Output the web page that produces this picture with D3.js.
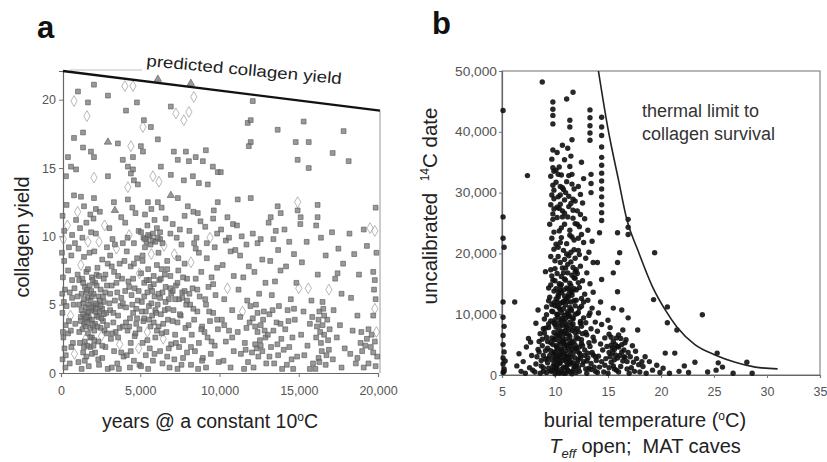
<!DOCTYPE html>
<html><head><meta charset="utf-8">
<script src="https://cdn.jsdelivr.net/npm/d3@7"></script>
<style>
body{margin:0;background:#fff}
svg{display:block}
text{font-family:"Liberation Sans",Arial,sans-serif;white-space:pre}
</style>
</head><body>
<svg id="c" width="827" height="462"></svg>
<script>
// ---------- panel a data ----------
const yieldTicks = [0, 5, 10, 15, 20];
const yearTicks = [0, 5000, 10000, 15000, 20000];
const predictedLine = [[0, 22.1], [20000, 19.2]];
// [years, collagen yield, marker (0 square, 1 diamond, 2 triangle)]
const collagenUpper = [
[1070,20.6],[820,19.9,1],[1700,19.8],[1640,18.8,1],[2080,21.1],[2960,20.3],[4030,21.0,1],[4540,21.0,1],[4790,19.8],[4100,19.2],
[5230,18.5],[5170,18.0,1],[5670,18.0],[6110,17.1],[6930,19.5],[7250,19.0,1],[7750,18.5,1],[8070,19.1,1],[8380,20.2,1],[6110,21.5,2],
[8190,21.2,2],[1390,17.6],[820,17.2],[2960,16.9,2],[3590,16.8],[4410,16.6,1],[5040,16.6],[1390,16.5],[1890,16.2],[2080,15.8],
[3900,15.6],[4540,15.8],[5170,16.2],[440,15.8],[7120,16.2],[7880,16.2],[8500,15.8],[9140,16.3],[630,15.1],[950,14.9],
[4220,15.1],[4540,14.9],[6300,15.1],[7370,15.6],[8070,15.5],[8950,15.5],[9580,15.1],[9890,14.7],[2080,14.3,1],[2960,14.4],
[4410,14.6],[4600,14.1],[4850,13.8],[5800,14.4,1],[6180,14.0,1],[6930,14.5],[7750,14.1],[8320,14.4],[8700,13.9],[9260,13.8],
[315,14.4],[4220,13.6,1],[820,13.0],[1260,12.9],[2080,12.8],[3340,12.5],[4220,12.7],[5480,12.5],[6110,12.5],[6930,13.0,2],
[7370,12.8],[8000,12.2],[8630,11.7],[9640,11.9],[9890,12.5],
[12100,19.9],[11780,18.3],[11970,18.5],[11970,16.9],[11850,16.6],[13670,17.8],[15310,18.4],[14810,16.9],[15630,16.9],[17830,17.7],
[14930,15.6],[15630,15.0],[17140,16.1],[18150,15.5],[11150,12.7],[11970,12.8],[13670,12.2],[13860,11.7],[13230,11.4],[14930,12.5,1],
[14930,11.9],[15120,11.4],[16190,12.3],[16190,11.4],[19850,12.1],[10080,14.7]
];
const collagenLower = [
[100,11.5],[150,9.8,1],[200,8.2],[120,7.0],[250,6.1],[180,5.2],[90,4.4],[300,3.5],[150,2.6],[220,1.8],[100,1.0],[280,0.4],[400,10.8,1],[500,9.2],[650,8.6],
[450,7.5],[700,6.8],[550,5.9],[800,5.0],[600,4.2,1],[900,3.6],[450,2.9],[750,2.2],[850,1.4,1],[550,0.7],[950,11.2],[700,10.1],[350,12.3],[880,9.5],[620,3.1],
[1050,11.8,1],[1200,10.6],[1350,9.9],[1100,9.1],[1450,8.5],[1250,7.9,1],[1600,7.4],[1150,6.8],[1500,6.3],[1300,5.8],[1700,5.5],[1400,5.1],[1550,4.8],[1650,4.4],[1250,4.1],
[1800,3.9],[1450,3.6],[1350,3.2],[1700,2.9],[1550,2.5,1],[1200,2.2],[1850,1.9],[1400,1.5],[1600,1.2],[1100,0.8],[1750,0.5],[1900,10.3],[1800,8.8],[1950,7.0],[1900,6.0],
[1750,5.0],[1950,4.6],[1850,3.3],[1650,2.0],[1500,0.9],[1300,0.3],[1950,2.6],[1700,9.6,1],[1600,11.0],[1850,11.6],[1450,12.2],[1150,3.0],[1050,5.6],[1500,4.0],[1600,5.9],
[1650,3.7],[1750,4.1],[1850,5.3],[1950,5.6],[1400,6.6],
[2050,11.3],[2200,10.2],[2400,9.6,1],[2100,8.9],[2600,8.3],[2300,7.7],[2800,7.2],[2150,6.6],[2500,6.1],[2350,5.6],[2700,5.2],[2050,4.9],[2450,4.5],[2250,4.2],[2650,3.8],
[2900,3.5],[2100,3.1],[2550,2.7,1],[2350,2.3],[2800,1.9],[2150,1.5],[2600,1.1],[2400,0.6],[2950,0.3],[2900,9.2],[2750,10.8,1],[2450,11.8],[2200,12.0],[2050,2.0],[2300,5.0],
[2150,4.5],[2600,4.7],[2500,3.3],[2900,6.4],[2700,6.9],[2850,4.4],[2250,7.2],[2950,8.0],
[3050,10.6],[3250,9.8],[3500,9.1,1],[3100,8.6],[3700,8.0],[3350,7.4],[3850,6.9],[3200,6.4],[3550,5.9],[3400,5.3],[3750,4.9],[3100,4.6],[3600,4.2],[3300,3.7],[3900,3.4],
[3450,3.0],[3150,2.5],[3700,2.1,1],[3350,1.6],[3950,1.2],[3550,0.7],[3200,0.4],[3800,11.4],[3400,11.9,2],[3900,9.5],[3600,7.1],[3050,5.1],[3800,5.5],[3250,2.9],[3650,0.3],
[4050,11.0],[4300,10.1,1],[4600,9.5],[4150,8.9],[4800,8.4],[4400,7.8],[4950,7.3,1],[4250,6.7],[4650,6.2],[4450,5.7],[4850,5.3],[4100,4.8],[4550,4.4],[4350,4.0],[4750,3.6],
[4200,3.1],[4650,2.7],[4400,2.2],[4900,1.8,1],[4150,1.3],[4600,0.9],[4350,0.4],[4950,0.6],[4700,11.7],[4500,12.1],[4900,10.4],[4050,6.0],[4750,4.7],[4550,6.9],[4300,3.4],
[5050,10.3],[5200,9.9],[5400,9.6],[5600,10.0],[5800,9.7],[5300,9.2],[5700,8.7,1],[5150,8.2],[5500,7.6],[5850,7.1],[5250,6.6],[5650,6.3],[5450,5.9],[5900,5.6],[5100,5.2],
[5550,4.9],[5350,4.5],[5750,4.2],[5200,3.8],[5650,3.4],[5450,3.0,1],[5950,2.6],[5150,2.2],[5600,1.8],[5350,1.3],[5800,0.9],[5050,0.5],[5500,0.3],[5900,11.2],[5300,11.6],
[5700,12.0],[5450,10.8],[5950,4.6],[5050,7.3],[5750,6.0],[5250,4.0],[5550,6.8],[5850,3.7],
[6050,10.6],[6250,9.8],[6500,9.3,1],[6150,8.8],[6700,8.2],[6350,7.6],[6900,7.1],[6200,6.8],[6600,6.3],[6400,5.9],[6800,5.4],[6100,5.0],[6550,4.6],[6300,4.3],[6750,3.9],
[6150,3.4],[6650,3.0],[6450,2.5,1],[6950,2.1],[6250,1.6],[6700,1.2],[6400,0.7],[6850,0.4],[6600,11.3],[6900,10.2],[6350,12.1],[6050,3.1],[6550,7.2],[6950,5.8],[6250,5.5],
[7050,10.9],[7300,9.9],[7600,9.4],[7150,8.7,1],[7800,8.0],[7400,7.5],[7950,6.9],[7250,6.4],[7650,5.9],[7450,5.4],[7900,5.0],[7100,4.6],[7550,4.2],[7350,3.7],[7850,3.3],
[7200,2.8],[7700,2.4],[7450,1.9],[7950,1.5],[7150,1.0],[7600,0.6],[7350,0.3],[7800,11.5],[7500,10.5],[7050,6.0],[7700,7.0],
[8100,10.4],[8400,9.5],[8700,8.8],[8200,8.1,1],[8850,7.4],[8500,6.9],[8300,6.2],[8750,5.6],[8150,5.0],[8600,4.5],[8400,3.9],[8900,3.4],[8250,2.8],[8700,2.2],[8450,1.6],
[8950,1.1],[8200,0.6],[8650,0.3],[8800,11.1],[8350,11.8],[8550,9.9],[8050,3.5],
[9100,10.7],[9400,9.9,1],[9700,9.2],[9200,8.4],[9850,7.7],[9500,7.0],[9300,6.3],[9750,5.7],[9150,5.0],[9600,4.4],[9400,3.8],[9900,3.2],[9250,2.6],[9700,2.0],[9450,1.4],
[9950,0.8],[9150,0.4],[9600,11.3],[9850,10.2],[9050,3.0],
[10100,10.5],[10400,9.7],[10700,8.9],[10200,7.9],[10900,7.1],[10500,6.2,1],[10300,5.4],[10800,4.6],[10150,3.9],[10600,3.1],[10400,2.3],[10900,1.6],[10250,0.9],[10700,0.4],[10500,11.4],[10850,10.9],
[11100,10.8],[11400,10.0],[11700,9.4],[11300,8.6],[11850,7.8],[11500,7.0],[11200,6.1],[11750,5.3],[11450,4.5,1],[11900,3.7],[11150,3.0],[11600,2.2],[11350,1.4],[11800,0.8],[11550,0.3],[11950,4.9],[11650,1.7],
[12100,10.2],[12400,9.5],[12700,8.3],[12200,7.4],[12900,6.6],[12500,5.8],[12300,5.0],[12800,4.5],[12100,4.0],[12600,3.5],[12400,3.0],[12900,2.6],[12250,2.1],[12700,1.6],[12450,1.2],
[12950,0.7],[12150,0.4],[12550,2.4],[12750,3.9],[12350,1.8],
[13100,11.0],[13400,9.8],[13700,9.0],[13200,8.2],[13850,7.5],[13500,6.7],[13300,5.7],[13750,4.9],[13150,4.3],[13600,3.7],[13400,3.1],[13900,2.5],[13250,1.9],[13700,1.3],[13450,0.7],
[13950,0.3],[13550,10.4],[13050,2.8],
[14100,10.5],[14400,9.6],[14700,8.7],[14200,7.8],[14850,6.6],[14500,5.4],[14300,4.6],[14750,3.9],[14150,3.2],[14600,2.6],[14400,1.9],[14900,1.2],[14250,0.6],[14650,0.3],
[15100,10.9],[15500,9.6],[15200,8.1],[15000,6.2,1],[15600,6.2,1],[15800,5.3],[15300,4.5],[15700,3.6],[15150,2.8],[15550,2.0],[15350,1.3],[15900,0.7],[15700,0.3],[15850,4.1],
[16100,10.8],[16400,9.9],[16700,8.6],[16200,7.2],[16900,6.1,1],[16500,5.2],[16300,4.5],[16800,3.9],[16150,3.4],[16600,2.8],[16400,2.2],[16900,1.7],[16250,1.1],[16700,0.6],[16050,0.3],
[16550,4.7],[16350,3.0],[16850,2.4],
[17100,10.3],[17500,9.1],[17800,8.0],[17300,6.9],[17700,5.8],[17200,4.6],[17600,3.5],[17400,2.6],[17900,1.8],[17150,1.0],[17700,0.4],[17450,7.3],
[18200,10.2],[18500,8.7],[18800,7.2],[18300,5.5],[18700,4.2],[18400,3.1],[18900,2.2],[18250,1.4],[18600,0.7],[18950,3.0],
[19100,10.5],[19500,10.6,1],[19800,10.4,1],[19300,9.3],[19900,8.8],[19700,7.4],[19800,6.8],[19750,6.1],[19850,5.4],[19800,4.7,1],[19700,4.2],[19400,3.2],[19600,2.8],[19900,3.0,1],
[19200,2.0],[19700,1.5],[19950,1.2],[19400,0.7],[19100,0.4],[19850,0.5]
];
// darker clusters
const collagenDense = [
[1300,4.6],[1450,5.4],[1550,3.4],[1650,6.1],[1750,4.5],[1850,2.6],[1950,3.9],[2050,5.8],[2150,3.6],[2250,6.4],[2350,4.1],[2450,5.3],[2550,4.0],[2650,5.6],[2750,3.1],
[1350,6.9],[1500,2.3],[1700,7.6],[1900,4.8],[2000,6.8],[2100,2.4],[2200,5.1],[2300,3.4],[2400,7.1],[2500,4.9],[2600,2.0],[2700,4.3],[2800,5.9],[2900,2.9],[1250,3.8],
[1400,4.3],[1600,4.1],[1800,6.4],[2000,3.5],[2200,4.7],[1150,5.0],[1950,1.4],[2350,1.0],[1450,1.9],[1050,7.2],
[3100,5.8],[3300,4.4],[3500,6.6],[3700,3.3],[3900,5.1],[4100,3.7],[4300,6.3],[4500,5.0],[4700,2.9],[4900,6.0],[3200,7.8],[3600,2.6],[4000,8.2],[4400,1.6],[4800,4.0],
[3400,9.4],[4200,9.9],[4600,8.0],[3800,1.5],[4950,3.2],
[5100,4.5],[5250,5.6],[5400,6.8],[5550,3.9],[5700,5.1],[5850,6.5],[6000,4.4],[6150,5.8],[6300,6.9],[6450,3.6],[6600,5.2],[6750,4.7],[6900,6.2],[7050,3.8],[7200,5.4],
[7350,6.6],[7500,4.3],[7650,5.5],[7800,6.0],[7950,5.3],[5300,9.8],[5500,10.1],[5650,9.4],[5800,10.2],[5950,9.6],[6100,9.9],[6250,10.3],[6400,9.5],[5450,2.4],[5900,1.4],
[6350,2.9],[6800,1.8],[7250,2.2],[7700,1.1],[5150,8.6],[6050,7.9],[6700,7.6],[7400,8.4],
[8100,5.8],[8350,4.7],[8600,6.1],[8850,3.2],[9100,5.4],[9350,4.5],[9600,6.5],[9850,3.9],[8500,9.1],[9200,9.5],[8200,1.9],[8900,0.9],[9500,2.3],
[10300,3.5],[10800,2.6],[11300,4.1],[11700,3.3],[12050,1.5],[12250,3.4],[12400,4.4],[12600,2.0],[12850,3.1],[13150,1.2],[13350,4.6],[13650,2.1],[13850,3.6],[14050,1.7],[14350,3.8],
[14550,1.0],[14700,4.7],[10600,9.9],[11000,9.0],[12600,9.8],
[16100,2.6],[16250,3.9],[16450,1.6],[16600,4.2],[16750,1.3],[16950,3.2],[16300,0.8],[16500,3.5],
[18700,1.1],[19000,1.6],[19300,2.5],[19550,1.9],[19800,2.3],
[80,5.8],[120,3.0],[60,8.8],[200,10.4],[350,4.9],[500,3.8],[700,5.5],[850,6.2],[300,1.3],[650,1.9]
];

// ---------- panel b data ----------
const tempTicks = [5, 10, 15, 20, 25, 30, 35];
const dateTicks = [0, 10000, 20000, 30000, 40000, 50000];
const thermalLimit = [[14.1,50000],[15,40500],[16,32000],[16.8,25400],[17.8,20600],[19.2,14500],[20.4,10700],[21.5,7900],[23.2,5000],[25.1,3300],[27,2100],[28.9,1300],[31,1000]];
// [burial temperature, uncalibrated 14C date]
const datePoints = [
[5.1,43500],[5.1,26000],[5.1,22500],[5.2,21000],[5.1,12000],[5.1,9500],[5.2,8000],[5.1,6500],[5.1,5000],[5.2,3800],[5.1,2800],[5.1,1800],[5.2,1000],[5.1,400],[5.3,2300],[5.2,600],
[6.2,12000],[6.4,1500],[6.8,600],[7.0,2200],[7.3,4600],[7.4,32800],[7.5,6000],[7.6,1200],[7.8,3200],[7.9,800],[7.7,5400],[7.2,300],[6.6,3500],
[8.1,500],[8.2,1800],[8.3,3000],[8.4,4200],[8.4,10700],[8.5,5500],[8.6,6800],[8.7,2400],[8.8,48200],[8.9,7600],[8.2,8500],[8.6,300],[8.9,1200],[8.5,3800],[8.8,4800],
[9.1,17000],[9.0,9200],[9.2,6200],[9.3,4400],[9.1,2600],[9.4,1100],[9.2,400],[9.5,3200],[9.6,5300],[9.4,7800],[9.7,10500],[9.5,12800],[9.8,15600],[9.6,19500],[9.7,22500],
[9.5,24800],[9.8,26500],[9.6,28000],[9.7,29600],[9.8,31200],[9.6,32700],[9.8,34100],[9.7,35500],[9.8,37000],[9.8,41300],[9.8,42700],[9.8,43700],[9.8,44900],[9.9,13800],[9.9,8600],
[9.9,5900],[9.9,3700],[9.9,1800],[9.3,2000],[9.7,700],[9.4,14300],[9.9,20700],[9.9,27300],[9.9,30400],[9.9,33500],[9.6,17300],[9.2,11200],
[10.0,200],[10.1,900],[10.2,1600],[10.3,2300],[10.1,3000],[10.4,3700],[10.2,4400],[10.5,5100],[10.0,5800],[10.3,6500],[10.6,7200],[10.1,7900],[10.4,8600],[10.7,9300],[10.2,10000],
[10.5,10700],[10.0,11400],[10.8,12100],[10.3,12800],[10.6,13500],[10.1,14200],[10.4,15000],[10.9,15800],[10.2,16700],[10.7,17600],[10.5,18500],[10.3,19500],[10.8,20500],[10.1,21500],[10.6,22600],
[10.4,23700],[10.9,24800],[10.2,25900],[10.7,27000],[10.5,28100],[10.3,29300],[10.8,30500],[10.1,31700],[10.6,32900],[10.4,34200],[10.9,35400],[10.2,36600],[10.7,37800],[10.6,500],[10.8,1300],
[10.5,2000],[10.9,2700],[10.7,3400],[10.6,4100],[10.9,4800],[10.8,5500],[10.4,6200],[10.9,6900],[10.7,8200],[10.9,9800],[10.5,11800],[10.8,14000],[10.6,16200],[10.9,19000],[10.0,2700],
[10.0,8300],[10.2,12000],[10.4,300],[10.1,4800],[10.3,9500],[10.5,14600],[10.0,17500],[10.7,26000],[10.3,33000],[10.9,28800],[10.5,31000],
[11.0,300],[11.1,1000],[11.2,1700],[11.3,2400],[11.1,3100],[11.4,3800],[11.2,4500],[11.5,5200],[11.0,5900],[11.3,6600],[11.6,7300],[11.1,8000],[11.4,8700],[11.7,9400],[11.2,10100],
[11.5,10800],[11.0,11500],[11.8,12200],[11.3,12900],[11.6,13600],[11.1,14300],[11.4,15100],[11.9,15900],[11.2,16800],[11.7,17700],[11.5,18600],[11.3,19600],[11.8,20600],[11.1,21600],[11.6,22700],
[11.4,23800],[11.9,24900],[11.2,26000],[11.7,27100],[11.5,28200],[11.3,29400],[11.8,30600],[11.1,31800],[11.6,33000],[11.4,34300],[11.4,40800],[11.4,41900],[11.1,45400],[11.7,46500],[11.6,600],
[11.8,1400],[11.5,2100],[11.9,2800],[11.7,3500],[11.6,4200],[11.9,4900],[11.8,5600],[11.4,6300],[11.9,7000],[11.7,8400],[11.9,10000],[11.5,12000],[11.8,14200],[11.6,16400],[11.9,19200],
[11.0,2600],[11.0,8400],[11.2,12100],[11.4,500],[11.1,4900],[11.3,9600],[11.5,14700],[11.0,17600],[11.7,25800],[11.3,32800],[11.9,28600],[11.5,36000],[11.2,37300],[11.6,38700],
[12.0,400],[12.2,1200],[12.1,2000],[12.4,2800],[12.3,3600],[12.0,4400],[12.5,5200],[12.2,6000],[12.6,6800],[12.1,7600],[12.4,8500],[12.7,9400],[12.2,10300],[12.5,11300],[12.0,12300],
[12.8,13300],[12.3,14400],[12.6,15500],[12.1,16700],[12.4,17900],[12.9,19200],[12.2,20500],[12.7,21800],[12.5,23100],[12.3,24400],[12.8,25700],[12.5,35000],[12.1,27000],[12.6,28300],[12.4,29700],
[12.2,31000],[12.7,32300],[12.9,1000],[12.8,3200],[12.6,4800],[12.9,7000],[12.3,600],[12.7,2200],[12.5,8000],
[13.0,300],[13.2,1100],[13.4,1900],[13.1,2800],[13.5,3700],[13.3,4700],[13.7,5600],[13.0,6600],[13.4,7600],[13.8,8700],[13.2,9800],[13.5,11000],[13.1,12300],[13.6,13600],[13.3,15000],
[13.4,30000],[13.4,31500],[13.4,33000],[13.3,38600],[13.3,39800],[13.3,41000],[13.3,42300],[13.3,43600],[13.0,16800],[13.6,18500],[13.2,20200],[13.5,22000],[13.1,23800],[13.9,2400],[13.8,600],[13.6,3300],
[14.0,400],[14.2,1300],[14.4,2200],[14.1,3100],[14.5,4100],[14.3,5100],[14.7,6100],[14.0,7200],[14.4,8300],[14.6,500],[14.8,2700],[14.9,4700],[14.0,18500],[14.2,23400],[14.4,15700],
[14.4,25400],[14.4,26700],[14.4,28000],[14.4,29300],[14.4,30600],[14.4,31900],[14.4,33200],[14.4,34500],[14.4,35800],[14.4,37500],[14.4,39400],[14.4,40800],[14.4,42400],[14.3,12000],[14.1,10200],[14.7,1600],
[15.0,300],[15.1,1200],[15.3,2100],[15.2,3000],[15.4,3600],[15.6,4200],[15.3,4900],[15.5,5500],[15.8,6100],[15.1,6700],[15.7,3300],[15.9,4700],[15.5,1500],[15.8,800],[15.5,16800],
[15.5,11000],[15.9,13700],[15.9,18500],[15.9,23400],[15.0,9000],[15.6,2500],[15.2,7800],
[16.1,20100],[16.3,10700],[16.9,9400],[16.9,23100],[16.9,24300],[16.9,25600],[16.0,500],[16.2,1400],[16.4,2300],[16.1,3200],[16.5,4100],[16.3,5000],[16.7,5800],[16.0,6600],[16.6,2900],
[16.8,1000],[16.9,3700],[16.4,7400],
[17.0,300],[17.2,1200],[17.4,2100],[17.1,3000],[17.6,3900],[17.3,4800],[17.8,7400],[17.5,600],[17.9,1700],[17.7,2700],
[18.0,500],[18.3,1400],[18.6,300],[18.9,2200],[19.2,800],[19.3,12400],[19.4,20100],[19.6,1600],[19.9,400],[18.5,3000],[18.2,2200],
[20.4,3600],[20.6,11200],[20.6,8600],[20.2,1100],[20.8,300],[21.3,3600],[21.5,7400],[21.7,600],[22.2,1500],[22.6,400],[23.2,2100],[23.9,9900],[25.3,3600],[25.4,2000],[25.8,1300],
[25.2,800],[26.8,300],[28.1,2100],[28.6,300],[24.4,500]
];
const datePointsDense = [
[9.6,600],[9.8,1400],[10.0,1100],[10.2,500],[10.4,1900],[9.7,2500],[10.1,2200],[10.3,3000],[9.9,3300],[10.5,2800],[9.6,4000],[10.0,3800],[10.2,4600],[9.8,5000],[10.4,5500],
[9.7,6100],[10.1,6600],[10.3,7300],[9.9,7000],[10.5,8000],[9.6,8900],[10.0,9100],[10.2,9900],[9.8,10400],[10.4,11000],[9.7,11600],[10.1,12500],[10.3,13100],[9.9,11900],[10.5,13900],
[9.6,14800],[10.0,15500],
[10.6,900],[10.8,300],[11.0,1300],[11.2,800],[11.4,1800],[10.7,2400],[11.1,2100],[11.3,3100],[10.9,3500],[11.5,2900],[10.6,4300],[11.0,4000],[11.2,5000],[10.8,5300],[11.4,5700],
[10.7,6300],[11.1,6800],[11.3,7500],[10.9,7200],[11.5,8100],[10.6,9000],[11.0,9300],[11.2,10400],[10.8,10900],[11.4,11100],[10.7,11900],[11.1,12600],[11.3,13300],[10.9,13000],[11.5,13900],
[10.6,14900],[11.0,15600],
[11.6,200],[11.8,1000],[12.0,1500],[12.2,2500],[12.4,3300],[11.7,2000],[12.1,3900],[12.3,4600],[11.9,4300],[12.5,5800],[11.6,5300],[12.0,6300],[12.2,7100],[11.8,7700],[12.4,8800],
[11.7,9200],[12.1,10100],[12.3,11000],[11.9,11400],[12.5,12600],[11.6,13100],[12.0,14000],[12.2,15200],[11.8,16000],
[8.7,1500],[8.9,3200],[9.1,4000],[9.3,5500],[9.0,6900],[9.4,8400],[9.2,9900],[9.4,12200],[8.9,600],[9.3,2700],[9.1,7700],[8.8,5900],
[12.6,1700],[12.8,4100],[13.0,2300],[13.2,5300],[13.4,900],[13.6,6200],[13.8,3000],[12.9,8600],[13.3,10200],[13.7,1300],[12.7,12000],[13.1,3600],
[9.7,16300],[10.0,18800],[10.3,21000],[10.6,24200],[10.9,26600],[11.2,18200],[11.5,20200],[11.8,22200],[12.1,24800],[12.4,26400],[9.9,23500],[10.2,27600],[10.5,29600],[10.8,16800],[11.1,19900],
[11.4,23000],[11.7,28900],[12.0,17300],[12.3,19800],[9.8,25600],[10.4,27400],[11.0,30000],[11.6,31400],[10.1,33700],[10.7,30800],[11.3,27700],[12.2,22500],[9.9,29000],[10.5,21800],[11.9,17000],
[15.1,3700],[15.4,4400],[15.7,5000],[16.0,4600],[16.3,3800],[16.6,5300],[15.3,6200],[15.9,2800],[16.2,6000],[16.5,3000],[15.6,1000],[16.8,2200],
[10.15,1200],[10.45,3300],[10.75,5600],[11.05,7700],[11.35,9800],[10.25,11300],[10.55,6900],[10.85,8800],[11.15,2900],[11.45,4700],[10.35,13600],[10.65,10200],[10.95,12300],[11.25,14100],[11.55,10600]
];

// ---------- drawing ----------
const svg = d3.select("#c");
const fmt = d3.format(",");
const FONT = '"Liberation Sans", Arial, sans-serif';

// ===== Panel a =====
const xA = d3.scaleLinear().domain([0, 20000]).range([61, 378]);
const yA = d3.scaleLinear().domain([0, 22.1]).range([373, 71]);
const gA = svg.append("g");

gA.append("text").attr("x", 37).attr("y", 38).attr("font-size", 31).attr("font-weight", "bold")
  .attr("fill", "#111").text("a");

const axLeftA = gA.append("g").attr("transform", `translate(${xA(0) + 2},0)`)
  .call(d3.axisLeft(yA).tickValues(yieldTicks).tickSize(4).tickPadding(3).tickFormat(d3.format("d")));
const axBotA = gA.append("g").attr("transform", `translate(0,${yA(0)})`)
  .call(d3.axisBottom(xA).tickValues(yearTicks).tickSize(4).tickPadding(9).tickFormat(fmt));
[axLeftA, axBotA].forEach(a => {
  a.select(".domain").attr("stroke", "#666").attr("stroke-width", 1.2);
  a.selectAll(".tick line").attr("stroke", "#777");
  a.selectAll(".tick text").attr("fill", "#555").attr("font-size", 12.5).attr("font-family", FONT);
});
gA.append("line").attr("x1", xA(20000) + 2).attr("x2", xA(20000) + 2)
  .attr("y1", yA(predictedLine[1][1])).attr("y2", yA(0)).attr("stroke", "#999").attr("stroke-width", 1);

const symA = [d3.symbolSquare, d3.symbolDiamond, d3.symbolTriangle];
const allA = collagenUpper.concat(collagenLower, collagenDense);
gA.append("g").selectAll("path").data(allA).join("path")
  .attr("transform", d => `translate(${xA(d[0])},${yA(d[1])})`)
  .attr("d", d => d3.symbol().type(symA[d[2] || 0]).size((d[2] || 0) === 1 ? 34 : 23)())
  .attr("fill", d => (d[2] || 0) === 1 ? "none" : "#777")
  .attr("fill-opacity", 0.75)
  .attr("stroke", d => (d[2] || 0) === 1 ? "#888" : "#555")
  .attr("stroke-width", 0.8)
  .attr("stroke-opacity", 0.75);

gA.append("line").attr("x1", 70).attr("x2", 142).attr("y1", 70).attr("y2", 70)
  .attr("stroke", "#d4d4d4").attr("stroke-width", 1.5);
gA.append("path").datum(predictedLine)
  .attr("d", d3.line().x(d => xA(d[0]) + 2).y(d => yA(d[1])))
  .attr("stroke", "#111").attr("stroke-width", 2.4).attr("fill", "none");
gA.append("text").attr("transform", "translate(146,66) rotate(5.3)")
  .attr("font-size", 16).attr("fill", "#222").attr("textLength", 196).attr("lengthAdjust", "spacingAndGlyphs")
  .text("predicted collagen yield");

gA.append("text").attr("transform", "translate(29,237) rotate(-90)").attr("text-anchor", "middle")
  .attr("font-size", 20).attr("fill", "#222").text("collagen yield");
const xlabA = gA.append("text").attr("x", 210).attr("y", 428).attr("text-anchor", "middle")
  .attr("font-size", 19.5).attr("fill", "#222");
xlabA.append("tspan").text("years @ a constant 10");
xlabA.append("tspan").attr("font-size", 12).attr("dy", -7).text("o");
xlabA.append("tspan").attr("dy", 7).text("C");

// ===== Panel b =====
const xB = d3.scaleLinear().domain([5, 35]).range([502, 820]);
const yB = d3.scaleLinear().domain([0, 50000]).range([375, 71]);
const gB = svg.append("g");

gB.append("text").attr("x", 432).attr("y", 34).attr("font-size", 31).attr("font-weight", "bold")
  .attr("fill", "#111").text("b");

gB.append("rect").attr("x", xB(5)).attr("y", yB(50000)).attr("width", xB(35) - xB(5))
  .attr("height", yB(0) - yB(50000)).attr("fill", "none").attr("stroke", "#888").attr("stroke-width", 1.2);

const axLeftB = gB.append("g").attr("transform", `translate(${xB(5)},0)`)
  .call(d3.axisLeft(yB).tickValues(dateTicks).tickSize(3).tickPadding(2).tickFormat(fmt));
const axBotB = gB.append("g").attr("transform", `translate(0,${yB(0)})`)
  .call(d3.axisBottom(xB).tickValues(tempTicks).tickSize(3).tickPadding(9).tickFormat(d3.format("d")));
[axLeftB, axBotB].forEach(a => {
  a.select(".domain").attr("stroke", "#666").attr("stroke-width", 1.2);
  a.selectAll(".tick line").attr("stroke", "#777");
  a.selectAll(".tick text").attr("fill", "#555").attr("font-size", 12.5).attr("font-family", FONT);
});
axLeftB.selectAll(".tick text").attr("textLength", d => d === 0 ? null : 42).attr("lengthAdjust", "spacingAndGlyphs");

gB.append("g").selectAll("circle").data(datePoints.concat(datePointsDense)).join("circle")
  .attr("cx", d => xB(d[0])).attr("cy", d => yB(d[1])).attr("r", 2.7)
  .attr("fill", "#111").attr("fill-opacity", 0.9);

gB.append("path").datum(thermalLimit)
  .attr("d", d3.line().curve(d3.curveMonotoneX).x(d => xB(d[0])).y(d => yB(d[1])))
  .attr("stroke", "#222").attr("stroke-width", 1.6).attr("fill", "none");

gB.append("text").attr("x", 642).attr("y", 117).attr("font-size", 18).attr("fill", "#333").text("thermal limit to");
gB.append("text").attr("x", 642).attr("y", 140).attr("font-size", 18).attr("fill", "#333").text("collagen survival");

const ylabB = gB.append("text").attr("transform", "translate(437,206) rotate(-90)").attr("text-anchor", "middle")
  .attr("font-size", 20.5).attr("fill", "#222");
ylabB.append("tspan").text("uncalibrated  ");
ylabB.append("tspan").attr("font-size", 12).attr("dy", -8).text("14");
ylabB.append("tspan").attr("dy", 8).text("C date");

const xlabB = gB.append("text").attr("x", 645).attr("y", 427).attr("text-anchor", "middle")
  .attr("font-size", 20).attr("fill", "#222");
xlabB.append("tspan").text("burial temperature (");
xlabB.append("tspan").attr("font-size", 12).attr("dy", -7).text("o");
xlabB.append("tspan").attr("dy", 7).text("C)");

const xlabB2 = gB.append("text").attr("x", 645).attr("y", 453).attr("text-anchor", "middle")
  .attr("font-size", 20).attr("fill", "#222");
xlabB2.append("tspan").attr("font-style", "italic").text("T");
xlabB2.append("tspan").attr("font-style", "italic").attr("font-size", 13).attr("dy", 5).text("eff");
xlabB2.append("tspan").attr("dy", -5).text(" open;  MAT caves");
</script>
</body></html>
